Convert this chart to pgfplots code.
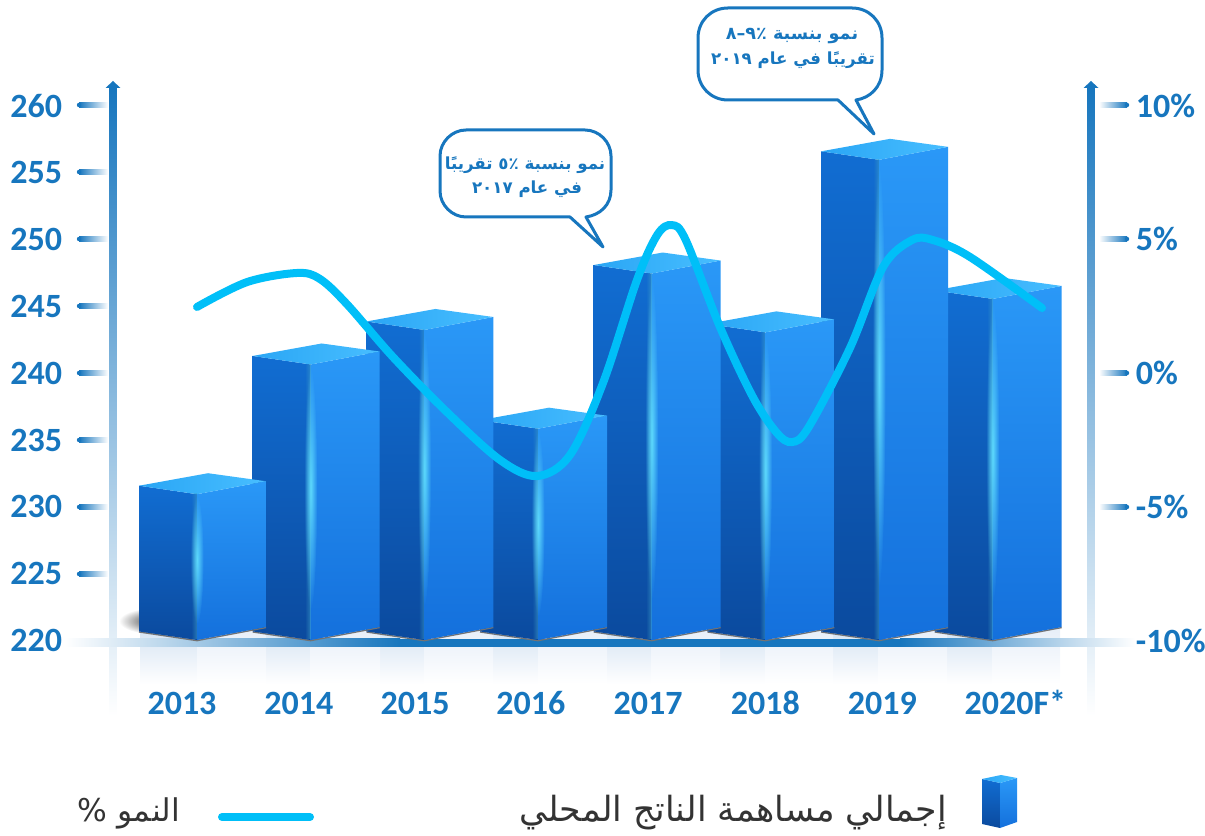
\documentclass[border=0pt]{standalone}
\usepackage{fontspec}
\usepackage{pgfplots}
\pgfplotsset{compat=1.18}
\usetikzlibrary{fadings}
\setmainfont{Carlito}
\newfontfamily\arfont[Script=Arabic]{DejaVu Sans}
\TeXXeTstate=1
\definecolor{ink}{HTML}{1776BE}
\definecolor{TL}{HTML}{116DD2}
\definecolor{BL}{HTML}{0B4A9E}
\definecolor{TR}{HTML}{2A98F7}
\definecolor{BR}{HTML}{1470DC}
\definecolor{TA}{HTML}{2AA6F5}
\definecolor{TB}{HTML}{48BEFF}
\definecolor{glow}{HTML}{5CD8FC}
\definecolor{seamc}{HTML}{3FA0C8}
\definecolor{growth}{HTML}{00BFF8}
\definecolor{refl}{HTML}{D3E2F2}
\definecolor{reflb}{HTML}{E6EEF8}
\tikzfading[name=glowfade, inner color=transparent!0, outer color=transparent!100]
\tikzfading[name=seamfade, left color=transparent!100, right color=transparent!45]
\newcommand{\threeDbar}[2]{%
  \pgfmathsetmacro\xl{#1-0.51}%
  \pgfmathsetmacro\xr{#1+0.607}%
  \pgfmathsetmacro\xa{#1+0.097}%
  \pgfmathsetmacro\xs{#1-0.05}%
  \pgfmathsetmacro\vl{#2+0.635}%
  \pgfmathsetmacro\vr{#2+0.97}%
  \pgfmathsetmacro\va{#2+1.57}%
  \pgfmathsetmacro\vs{#2+0.06}%
  \addplot[forget plot,draw=black!55,line width=1pt] coordinates {(\xl,220.6)(#1,219.95)(\xr,220.93)};
  \addplot[forget plot,draw=none,top color=TL,bottom color=BL] coordinates {(\xl,\vl)(#1,#2)(#1,220)(\xl,220.64)} --cycle;
  \addplot[forget plot,draw=none,top color=TR,bottom color=BR] coordinates {(#1,#2)(\xr,\vr)(\xr,220.97)(#1,220)} --cycle;
  \addplot[forget plot,draw=none,left color=TA,right color=TB] coordinates {(\xl,\vl)(\xa,\va)(\xr,\vr)(#1,#2)} --cycle;
  \pgfmathsetmacro\vm{220+(#2-220)*0.55}%
  \pgfmathsetmacro\gr{(#2-220)*10.03*0.44}%
  \edef\temp{\noexpand\fill[seamc,path fading=seamfade] (axis cs:\xs,220.1) rectangle (axis cs:#1,\vs);}%
  \temp
  \edef\temp{\noexpand\fill[glow,path fading=glowfade] (axis cs:#1,\vm) ellipse [x radius=5pt,y radius=\gr pt];}%
  \temp
}
\begin{document}
\begin{tikzpicture}
\path[use as bounding box] (0,0) rectangle (903.75pt,626.25pt);
% background furniture, in pixels of the reference
\begin{scope}[x=0.75pt,y=-0.75pt,yshift=626.25pt]
  % reflections under the bars
  \foreach \a/\b in {140/197,266/310,380/424,493/538,607/651,720/765,833/878,947/992}
    \shade[top color=refl,bottom color=white] (\a,627) rectangle (\b,684);
  \foreach \a/\b in {197/266,310/380,424/493,538/607,651/720,765/833,878/947,992/1060}
    \shade[top color=reflb,bottom color=white] (\a,627) rectangle (\b,684);
  % vertical axes
  \foreach \c in {113,1091}{
    \shade[top color=ink,bottom color=white] (\c-3.5,87) rectangle (\c+3.5,716);
    \fill[ink] (\c-7.5,88) -- (\c,81) -- (\c+7.5,88) -- cycle;
  }
  % base band
  \shade[left color=white,right color=ink] (65,639) rectangle (400,647);
  \fill[ink] (400,639) rectangle (900,647);
  \shade[left color=ink,right color=white] (900,639) rectangle (1135,647);
  % tick dashes
  \foreach \y in {105,172,239,306,373,440,507,574}{
    \shade[left color=ink,right color=white] (79,\y-2.2) rectangle (108,\y+2.2);
    \fill[ink] (79,\y) circle (2.2);
  }
  \foreach \y in {105,239,373,507}{
    \shade[left color=white,right color=ink] (1099,\y-2.2) rectangle (1127,\y+2.2);
    \fill[ink] (1127,\y) circle (2.2);
  }
  % shadow at the first bar
  \fill[black!75,path fading=glowfade] (154,621) ellipse (35 and 13);
\end{scope}
% bars: split edge x is the year index, y the GDP value
\begin{axis}[
  at={(84.75pt,146.25pt)},anchor=south west,
  scale only axis,width=733.5pt,height=401.25pt,
  xmin=-0.739,xmax=7.865,ymin=220,ymax=260,
  clip=false,
  axis line style={draw=none},
  axis y line*=left,axis x line*=bottom,
  major tick length=0pt,tick style={draw=none},
  ytick={220,225,230,235,240,245,250,255,260},
  yticklabels={220,225,230,235,240,245,250,255,260},
  yticklabel style={anchor=east,inner sep=0pt,xshift=-38pt,yshift=-0.5pt,font=\fontsize{25.5}{25.5}\selectfont\bfseries,text=ink},
  xtick={-0.132,0.897,1.918,2.938,3.968,5,6.03,7.2},
  xticklabels={2013,2014,2015,2016,2017,2018,2019,2020F*},
  xticklabel style={anchor=center,inner sep=0pt,text height=16.5pt,text depth=0pt,yshift=-47.5pt,font=\fontsize{25.5}{25.5}\selectfont\bfseries,text=ink},
]
\threeDbar{7}{245.5}
\threeDbar{6}{255.9}
\threeDbar{5}{243.0}
\threeDbar{4}{247.4}
\threeDbar{3}{235.8}
\threeDbar{2}{243.18}
\threeDbar{1}{240.6}
\threeDbar{0}{230.9}
\end{axis}
% growth on the right axis
\begin{axis}[
  at={(84.75pt,146.25pt)},anchor=south west,
  scale only axis,width=733.5pt,height=401.25pt,
  xmin=-0.739,xmax=7.865,ymin=-10,ymax=10,
  clip=false,
  axis x line=none,axis y line*=right,
  axis line style={draw=none},
  major tick length=0pt,tick style={draw=none},
  ytick={-10,-5,0,5,10},
  yticklabels={-10\%,-5\%,0\%,5\%,10\%},
  yticklabel style={anchor=west,inner sep=0pt,xshift=33.5pt,yshift=-0.5pt,font=\fontsize{25.5}{25.5}\selectfont\bfseries,text=ink},
]
\addplot[growth,line width=6pt,line cap=round,smooth,tension=0.55] coordinates {
(0,2.45)(0.44,3.38)(0.88,3.72)(1.08,3.50)(1.32,2.55)(1.724,0.58)(2.199,-1.48)(2.666,-3.27)
(2.991,-3.87)(3.282,-3.08)(3.572,-0.39)(3.871,3.46)(4.05,5.15)(4.179,5.51)(4.30,4.95)(4.601,1.70)
(4.891,-0.92)(5.10,-2.25)(5.234,-2.60)(5.38,-2.05)(5.745,0.92)(6.035,3.94)(6.29,4.95)(6.475,4.95)
(6.80,4.32)(7.434,2.41)};
\end{axis}
% call-outs and legend, in pixels of the reference
\begin{scope}[x=0.75pt,y=-0.75pt,yshift=626.25pt]
  \draw[ink,fill=white,line width=2.25pt,line join=round]
    (570,217) -- (466,217) .. controls (452,217) and (440,205) .. (440,191) -- (440,156)
    .. controls (440,142) and (452,130) .. (466,130) -- (585,130)
    .. controls (599,130) and (611,142) .. (611,156) -- (611,190)
    .. controls (611,205) and (600,215) .. (586,217) -- (603,247) -- cycle;
  \node[text=ink,font=\arfont\bfseries\fontsize{12.5}{12.5}\selectfont,inner sep=0pt] at (525,165) {\beginR نمو بنسبة ٪٥ تقريبًا\endR};
  \node[text=ink,font=\arfont\bfseries\fontsize{12.5}{12.5}\selectfont,inner sep=0pt] at (527,189) {\beginR في عام ٢٠١٧\endR};
  \draw[ink,fill=white,line width=2.25pt,line join=round]
    (838,100) -- (728,100) .. controls (711,100) and (698,87) .. (698,70) -- (698,38)
    .. controls (698,21) and (711,8) .. (728,8) -- (852,8)
    .. controls (869,8) and (882,21) .. (882,38) -- (882,70)
    .. controls (882,87) and (870,98) .. (856,100) -- (874,134) -- cycle;
  \node[text=ink,font=\arfont\bfseries\fontsize{13.2}{13.2}\selectfont,inner sep=0pt] at (792,36) {\beginR نمو بنسبة ٪٩–٨\endR};
  \node[text=ink,font=\arfont\bfseries\fontsize{12.5}{12.5}\selectfont,inner sep=0pt] at (793,60) {\beginR تقريبًا في عام ٢٠١٩\endR};
  % legend
  \shade[top color=TL,bottom color=BL] (982,779) -- (1000,783) -- (1000,828) -- (982,824) -- cycle;
  \shade[top color=TR,bottom color=BR] (1000,783) -- (1017,778) -- (1017,822) -- (1000,828) -- cycle;
  \shade[left color=TA,right color=TB] (982,779) -- (1001,775) -- (1017,778) -- (1000,783) -- cycle;
  \node[text=black!80,font=\arfont\fontsize{26}{26}\selectfont,inner sep=0pt,anchor=east] at (947,813) {\beginR إجمالي مساهمة الناتج المحلي\endR};
  \node[text=black!80,font=\arfont\fontsize{23.5}{23.5}\selectfont,inner sep=0pt,anchor=east] at (180,813) {\beginR النمو \beginL\%\endL\endR};
  \draw[growth,line width=6pt,line cap=round] (222,817) -- (310,817);
\end{scope}
\end{tikzpicture}
\end{document}
